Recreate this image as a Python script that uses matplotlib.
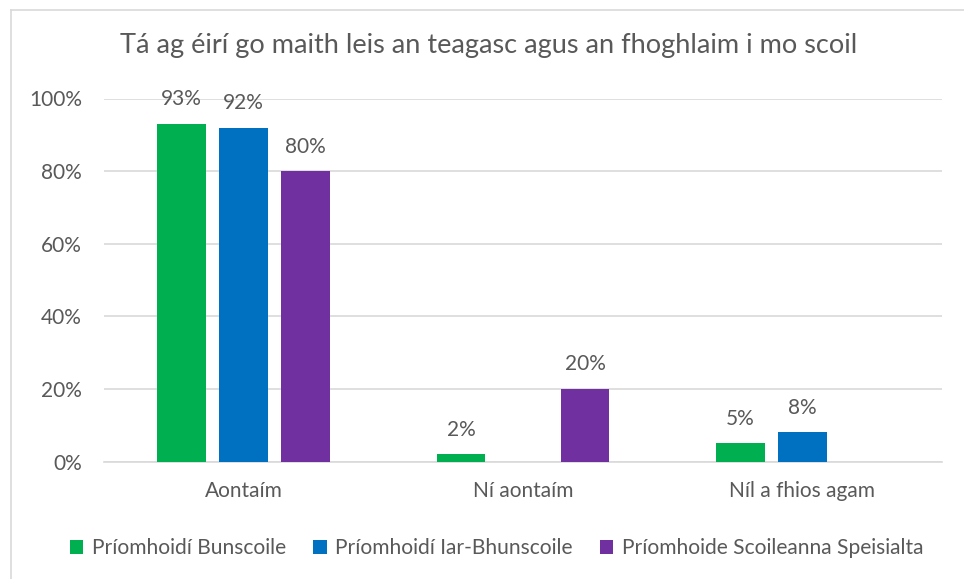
import numpy as np
import matplotlib
matplotlib.use('Agg')
import matplotlib.pyplot as plt
from matplotlib.lines import Line2D
from matplotlib.ticker import PercentFormatter

categories = ['Aontaím', 'Ní aontaím', 'Níl a fhios agam']
series_names = ['Príomhoidí Bunscoile', 'Príomhoidí Iar-Bhunscoile', 'Príomhoide Scoileanna Speisialta']
bunscoile = [93, 2, 5]
iar_bhunscoile = [92, np.nan, 8]
speisialta = [80, 20, np.nan]
colors = ['#00B050', '#0070C0', '#7030A0']

plt.rcParams['font.family'] = ['Lato', 'DejaVu Sans']
text_col = '#595959'

fig = plt.figure(figsize=(9.64, 5.79), dpi=100)
# chart frame (only left and top edges are visible in the crop)
fig.add_artist(Line2D([10.5 / 964, 10.5 / 964], [0, 1 - 9.5 / 579], transform=fig.transFigure,
                      color='#D9D9D9', linewidth=1.2))
fig.add_artist(Line2D([10.5 / 964, 1], [1 - 9.5 / 579, 1 - 9.5 / 579], transform=fig.transFigure,
                      color='#D9D9D9', linewidth=1.2))

ax = fig.add_axes([104 / 964, 1 - 461.5 / 579, 838 / 964, 363 / 579])

x = np.arange(len(categories))
width = 0.174
step = 0.222
for i, (vals, name) in enumerate(zip([bunscoile, iar_bhunscoile, speisialta], series_names)):
    pos = x + (i - 1) * step
    ax.bar(pos, vals, width, color=colors[i], label=name, zorder=3)
    for p, v in zip(pos, vals):
        if not np.isnan(v):
            ax.text(p, v + 4.0, '{:.0f}%'.format(v), ha='center', va='bottom',
                    fontsize=15, color=text_col)

ax.set_xlim(-0.5, 2.5)
ax.set_ylim(0, 100)
ax.set_yticks(range(0, 101, 20))
ax.yaxis.set_major_formatter(PercentFormatter(decimals=0))
ax.set_xticks(x)
ax.set_xticklabels(categories)
ax.tick_params(axis='both', length=0, labelsize=15, labelcolor=text_col)
ax.tick_params(axis='x', pad=14)
ax.tick_params(axis='y', pad=16)
ax.grid(axis='y', color='#D9D9D9', linewidth=1.2, zorder=0)
for s in ['top', 'right', 'left']:
    ax.spines[s].set_visible(False)
ax.spines['bottom'].set_color('#D9D9D9')
ax.spines['bottom'].set_linewidth(1.2)

fig.suptitle('Tá ag éirí go maith leis an teagasc agus an fhoghlaim i mo scoil',
             x=489 / 964, y=1 - 46 / 579, va='center', fontsize=19.5, color=text_col)
fig.legend(loc='center', bbox_to_anchor=(496.5 / 964, 1 - 548 / 579), ncol=3, frameon=False,
           fontsize=15.1, labelcolor=text_col, handlelength=0.65, handleheight=0.65,
           handletextpad=0.4, columnspacing=1.3)

fig.savefig('out.png', dpi=100)
